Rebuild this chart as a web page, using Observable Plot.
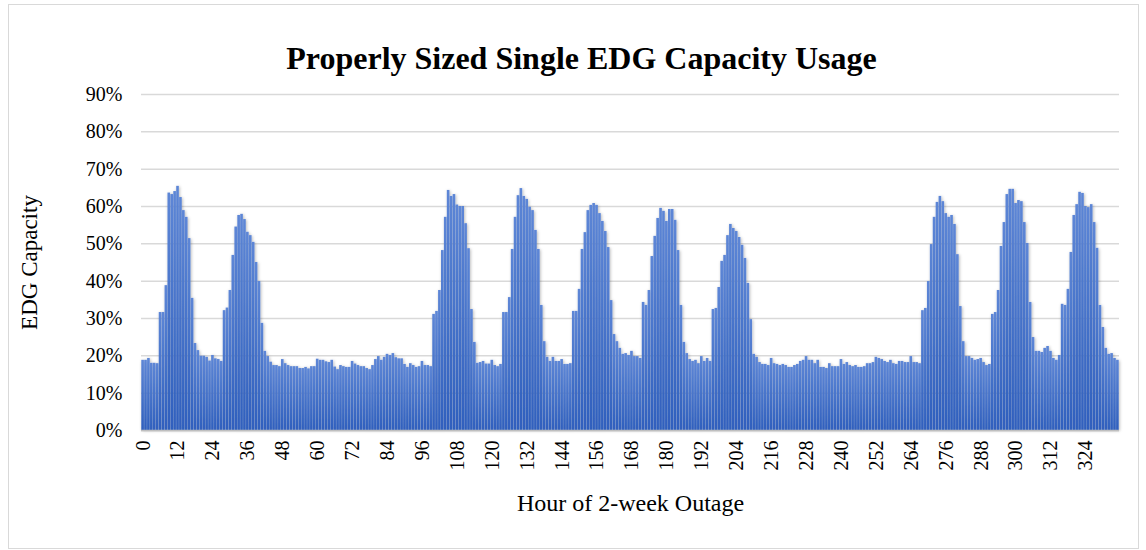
<!DOCTYPE html>
<html>
<head>
<meta charset="utf-8">
<script src="https://cdn.jsdelivr.net/npm/d3@7"></script>
<script src="https://cdn.jsdelivr.net/npm/@observablehq/plot@0.6"></script>
<style>
  body { margin: 0; background: #fff; }
  #wrap { position: relative; width: 1146px; height: 550px; overflow: hidden; }
  #wrap svg { position: absolute; left: 0; top: 0; }
  #border { position: absolute; left: 8px; top: 4px; width: 1129px; height: 543px; border: 1px solid #d9d9d9; pointer-events: none; }
</style>
</head>
<body>
<div id="wrap"><div id="border"></div></div>
<script>
const chartTitle = "Properly Sized Single EDG Capacity Usage";
const yTitle = "EDG Capacity";
const xTitle = "Hour of 2-week Outage";

// EDG capacity (%) for each hour 0..335 of the outage
const capacity = [
  18.8,18.8,19.3,18.0,18.0,17.9,31.6,31.6,38.8,63.6,63.2,64.0,65.4,62.4,58.9,57.1,51.4,35.4,23.3,21.4,19.9,19.9,19.6,18.6,20.1,19.2,19.0,18.5,
  32.1,32.8,37.5,46.9,54.5,57.6,57.9,56.5,53.1,52.2,50.4,45.0,39.9,28.7,21.2,19.8,18.3,17.4,17.4,17.1,19.0,17.9,17.4,17.1,17.1,17.1,16.6,16.6,16.9,
  16.5,17.1,17.1,19.1,18.8,18.8,18.4,18.2,18.8,17.0,16.3,17.4,17.1,16.9,16.9,18.5,17.8,17.4,17.1,17.1,16.6,16.3,17.4,19.0,19.8,18.8,19.6,20.4,20.1,
  20.6,19.5,19.2,19.2,17.7,16.9,17.9,17.4,16.9,17.1,18.5,17.4,17.4,17.1,31.1,31.9,37.5,48.2,57.1,64.3,62.7,63.2,60.4,60.0,60.0,55.4,48.7,32.4,23.6,
  18.0,18.2,18.5,17.8,17.8,18.8,17.4,17.1,17.7,31.6,31.6,35.6,48.5,57.1,62.9,64.8,62.7,61.9,59.8,58.9,53.6,48.5,33.5,23.8,19.6,18.5,19.6,18.5,18.5,
  19.0,17.7,17.7,17.9,31.9,31.9,37.8,48.5,53.0,58.9,60.3,60.8,60.3,58.1,56.0,53.3,49.0,34.8,25.7,23.8,22.0,20.4,20.6,20.1,21.2,19.8,19.8,19.3,34.3,
  33.5,37.5,46.6,52.0,56.8,59.5,58.7,56.0,59.2,59.2,56.3,48.2,33.5,23.6,20.6,19.0,18.5,18.8,17.9,19.8,18.5,19.3,18.5,32.4,32.7,38.3,45.3,46.9,52.2,55.2,
  54.1,53.3,51.7,49.6,46.1,39.4,29.7,20.4,19.6,18.2,17.7,17.7,17.4,19.3,17.9,17.7,17.4,17.7,17.4,16.9,16.9,17.4,17.7,18.5,18.8,19.8,18.8,18.8,17.9,
  18.8,16.9,16.9,16.6,17.9,17.1,17.1,17.1,19.0,17.7,18.2,17.4,17.1,17.4,16.9,16.9,17.1,17.9,17.9,18.2,19.6,19.3,19.0,18.5,18.2,18.8,17.9,17.7,18.5,
  18.5,18.2,18.2,19.8,18.2,18.2,17.9,32.1,32.7,39.9,49.8,57.1,61.1,62.7,61.3,58.1,57.1,57.6,55.2,47.1,33.2,23.8,19.8,19.8,19.3,18.8,19.0,19.3,18.2,
  17.4,17.7,31.1,31.6,37.5,49.3,55.7,63.2,64.6,64.6,60.8,61.6,61.3,55.7,50.1,34.3,24.9,21.2,21.2,20.9,22.0,22.5,21.2,19.3,18.8,20.1,33.8,33.5,37.8,
  47.7,57.6,60.5,63.8,63.5,60.0,59.7,60.5,55.7,48.8,33.5,27.6,22.0,20.4,20.6,19.3,18.8
];

const xTickLabels = [0,12,24,36,48,60,72,84,96,108,120,132,144,156,168,180,192,204,216,228,240,252,264,276,288,300,312,324];
const yTicks = [0,10,20,30,40,50,60,70,80,90];

const hours = capacity.map((_, i) => i);
const data = hours.map(h => ({hour: h, value: capacity[h]}));

const serif = "'Liberation Serif', 'Times New Roman', 'DejaVu Serif', serif";

const plot = Plot.plot({
  width: 1146,
  height: 550,
  marginLeft: 141,
  marginRight: 27,
  marginTop: 94,
  marginBottom: 120,
  style: {fontFamily: serif, background: "transparent", color: "#000"},
  x: {type: "band", domain: hours, padding: 0.1},
  y: {domain: [0, 90]},
  marks: [
    Plot.gridY(yTicks, {stroke: "#d9d9d9", strokeOpacity: 1, strokeWidth: 1.5}),
    Plot.barY(data, {x: "hour", y: "value", fill: "url(#barGrad)"}),
    Plot.ruleY([0], {stroke: "#bfbfbf", strokeWidth: 1.5}),
    Plot.axisY(yTicks, {tickSize: 0, tickPadding: 19, tickFormat: d => d + "%", fontSize: 20, label: null}),
    Plot.axisX(xTickLabels, {tickSize: 0, tickPadding: 10, tickRotate: -90, fontSize: 20, label: null}),
    Plot.text([yTitle], {frameAnchor: "left", rotate: -90, dx: -112, textAnchor: "middle", lineAnchor: "middle", fontSize: 23, fill: "#000"}),
    Plot.text([xTitle], {frameAnchor: "bottom", dy: 73, textAnchor: "middle", lineAnchor: "middle", fontSize: 24, fill: "#000"}),
    Plot.text([chartTitle], {frameAnchor: "top", dy: -36, dx: -49, textAnchor: "middle", lineAnchor: "middle", fontSize: 32, fontWeight: "bold", fill: "#000"})
  ]
});

const ns = "http://www.w3.org/2000/svg";
const defs = document.createElementNS(ns, "defs");
defs.innerHTML = `
  <linearGradient id="barGrad" x1="0" y1="0" x2="0" y2="1">
    <stop offset="0" stop-color="#5d86d6"/>
    <stop offset="1" stop-color="#2f5fbd"/>
  </linearGradient>
  <filter id="barShadow" x="-5%" y="-5%" width="110%" height="110%">
    <feDropShadow dx="0.8" dy="0.8" stdDeviation="1.8" flood-color="#000" flood-opacity="0.3"/>
  </filter>`;
plot.insertBefore(defs, plot.firstChild);
const barGroup = plot.querySelector('g[aria-label="bar"]');
if (barGroup) barGroup.setAttribute("filter", "url(#barShadow)");

document.getElementById("wrap").insertBefore(plot, document.getElementById("border"));
</script>
</body>
</html>
